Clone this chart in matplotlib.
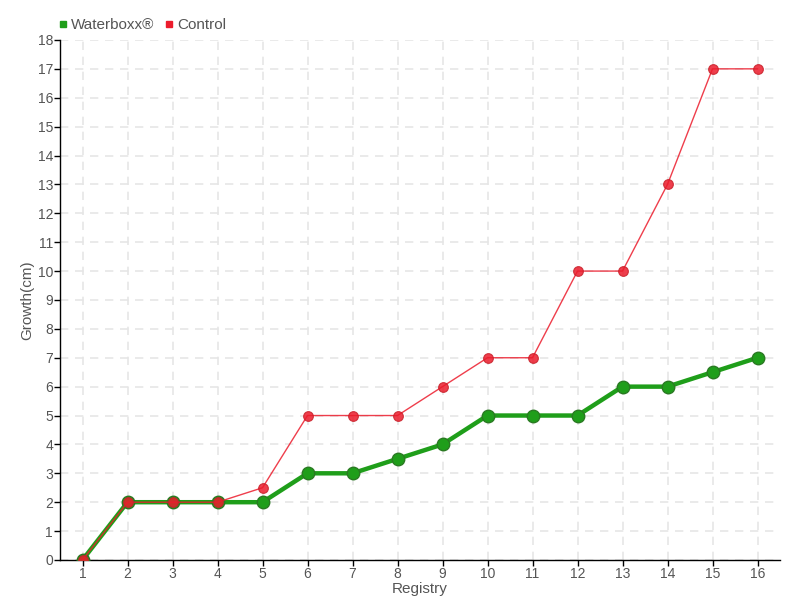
import matplotlib
matplotlib.use("Agg")
import matplotlib.pyplot as plt
from matplotlib.lines import Line2D

registry = list(range(1, 17))
waterboxx = [0, 2, 2, 2, 2, 3, 3, 3.5, 4, 5, 5, 5, 6, 6, 6.5, 7]
control = [0, 2, 2, 2, 2.5, 5, 5, 5, 6, 7, 7, 10, 10, 13, 17, 17]
series_names = ["Waterboxx®", "Control"]

plt.rcParams['font.family'] = ['Liberation Sans', 'DejaVu Sans']
txt = '#555555'
green = '#1f9e1a'
red = '#ec1c2c'

fig = plt.figure(figsize=(8, 6), dpi=100)
ax = fig.add_axes([0.075, 0.0667, 0.9, 0.8667])

ax.plot(registry, waterboxx, color=green, lw=3.2, marker='o', ms=9,
        markerfacecolor=green, markeredgecolor='#2a7a22', markeredgewidth=1, zorder=3)
ax.plot(registry, control, color=red, lw=1, alpha=0.85, marker='o', ms=7,
        markerfacecolor=red, markeredgecolor='#c8202a', markeredgewidth=0.8, zorder=4)

ax.set_xlim(0.5, 16.5)
ax.set_ylim(0, 18)
ax.set_xticks(registry)
ax.set_yticks(range(0, 19))
ax.grid(True, color='#e6e6e6', linestyle=(0, (5, 4)), lw=1.2)
ax.set_axisbelow(True)
for s in ['top', 'right']:
    ax.spines[s].set_visible(False)
for s in ['left', 'bottom']:
    ax.spines[s].set_color('black')
    ax.spines[s].set_linewidth(1)
ax.tick_params(colors='black', labelcolor=txt, labelsize=10, length=4, width=1, pad=1)
ax.set_xlabel('Registry', color=txt, fontsize=11)
ax.xaxis.set_label_coords(0.5, -0.042)
ax.set_ylabel('Growth(cm)', color=txt, fontsize=11)
ax.yaxis.set_label_coords(-0.036, 0.5)

handles = [Line2D([], [], marker='s', ls='', color=green, ms=5),
           Line2D([], [], marker='s', ls='', color=red, ms=5)]
fig.legend(handles, series_names, loc='upper left', bbox_to_anchor=(0.052, 0.993),
           ncol=2, frameon=False, fontsize=11, labelcolor=txt,
           handletextpad=0.0, columnspacing=0.5, handlelength=1.0)

fig.savefig('out.png', dpi=100)
